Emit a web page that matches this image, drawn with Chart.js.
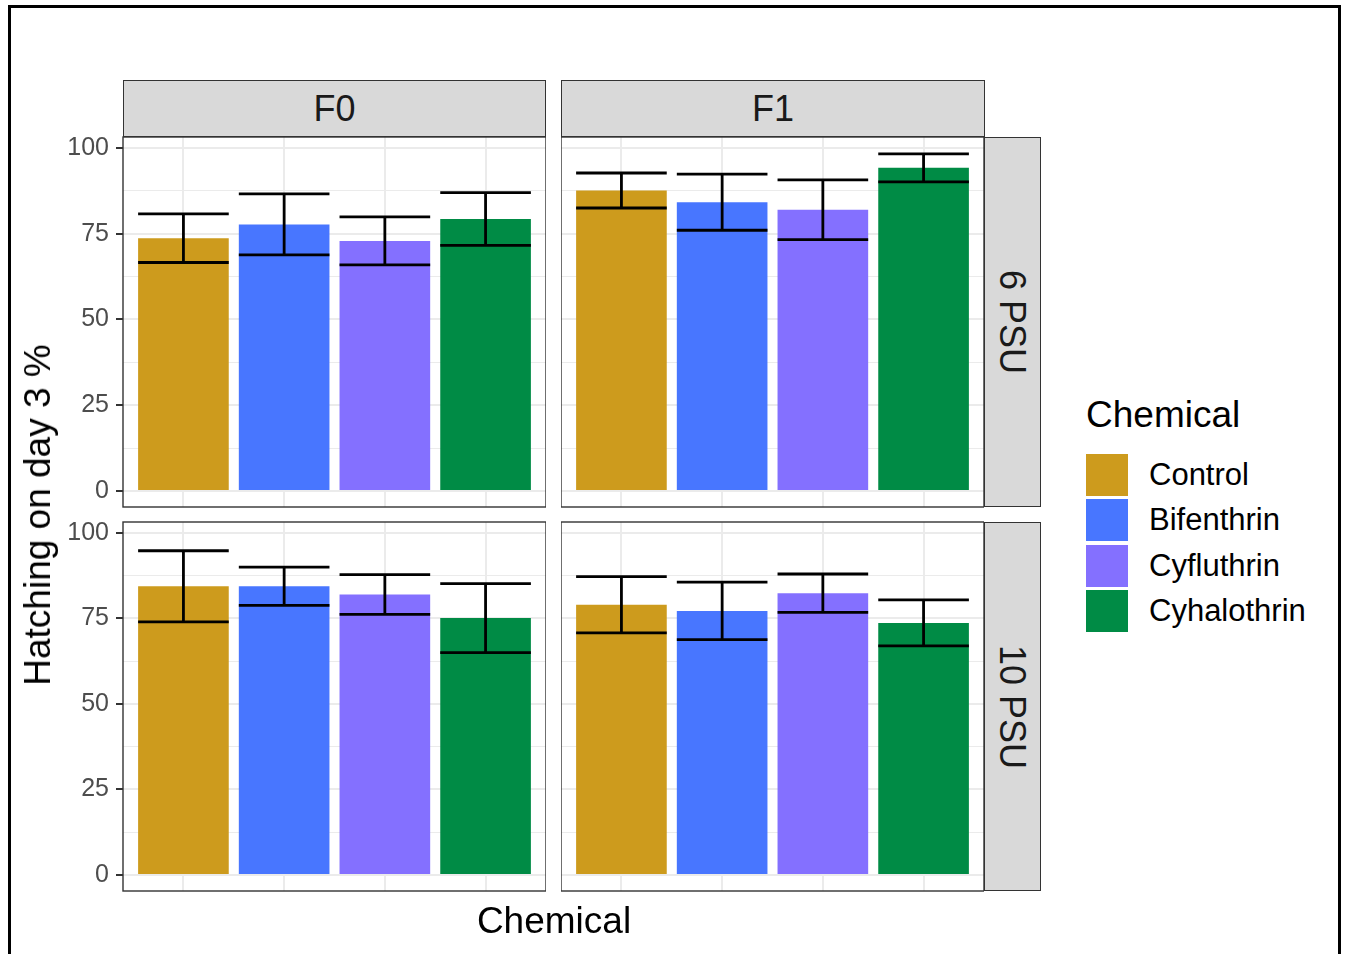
<!DOCTYPE html>
<html>
<head>
<meta charset="utf-8">
<script src="https://cdn.jsdelivr.net/npm/chart.js@4.4.1/dist/chart.umd.min.js"></script>
<style>
  body { margin: 0; background: #fff; width: 1345px; height: 954px; overflow: hidden; position: relative;
         font-family: "Liberation Sans", Arial, sans-serif; }
  .frame { position: absolute; left: 8px; top: 5px; width: 1327px; height: 990px; border: 3px solid #000; }
  canvas { position: absolute; }
  .strip { position: absolute; background: #d9d9d9; border: 1.5px solid #333; box-sizing: border-box;
           color: #1a1a1a; font-size: 36px; display: flex; align-items: center; justify-content: center; }
  .vtext { transform: rotate(90deg); white-space: nowrap; }
  .title { position: absolute; color: #000; font-size: 37px; white-space: nowrap; transform: translate(-50%, -50%); }
  .legend { position: absolute; left: 1086px; top: 394px; }
  .legend .head { font-size: 37px; color: #000; margin-bottom: 16px; line-height: 42px; }
  .legend .row { display: flex; align-items: center; height: 45.5px; }
  .legend .key { width: 42px; height: 42px; margin-right: 21px; }
  .legend .lab { font-size: 31px; color: #000; }
</style>
</head>
<body>
<div class="frame"></div>

<canvas id="p00" width="496" height="450" style="left:50px; top:97px;"></canvas>
<canvas id="p01" width="423" height="450" style="left:561px; top:97px;"></canvas>
<canvas id="p10" width="496" height="449" style="left:50px; top:482px;"></canvas>
<canvas id="p11" width="423" height="449" style="left:561px; top:482px;"></canvas>

<div class="strip" style="left:123px; top:80px; width:423px; height:57px;">F0</div>
<div class="strip" style="left:561px; top:80px; width:424px; height:57px;">F1</div>
<div class="strip" style="left:984px; top:137px; width:57px; height:370px;"><span class="vtext">6 PSU</span></div>
<div class="strip" style="left:984px; top:522px; width:57px; height:369px;"><span class="vtext">10 PSU</span></div>

<div class="title" style="left:38px; top:515px; transform: translate(-50%, -50%) rotate(-90deg);">Hatching on day 3 %</div>
<div class="title" style="left:554px; top:921px;">Chemical</div>

<div class="legend" id="legend"><div class="head">Chemical</div></div>

<script>
const categories = ["Control", "Bifenthrin", "Cyfluthrin", "Cyhalothrin"];
const barColors = ["#CD9B1D", "#4876FF", "#8470FF", "#008B45"];
const yTicks = [0, 25, 50, 75, 100];
const yMinorTicks = [12.5, 37.5, 62.5, 87.5];

// mean hatching on day 3 (%) and error bar half-width, one pair per facet
const f0_6psu = [73.7, 77.7, 72.9, 79.3];
const f0_6psu_err = [7.1, 8.9, 7.0, 7.7];
const f1_6psu = [87.6, 84.2, 82.0, 94.2];
const f1_6psu_err = [5.1, 8.2, 8.7, 4.1];
const f0_10psu = [84.4, 84.4, 82.0, 75.1];
const f0_10psu_err = [10.4, 5.6, 5.8, 10.1];
const f1_10psu = [79.0, 77.2, 82.4, 73.7];
const f1_10psu_err = [8.2, 8.4, 5.6, 6.7];

Chart.defaults.font.family = '"Liberation Sans", Arial, sans-serif';

const errorBars = {
  id: "errorBars",
  afterDatasetsDraw(chart, args, opts) {
    const ctx = chart.ctx, xs = chart.scales.x, ys = chart.scales.y;
    ctx.save();
    ctx.strokeStyle = "#000";
    ctx.lineWidth = 2.8;
    chart.data.datasets[0].data.forEach((pt, i) => {
      const xc = xs.getPixelForValue(pt.x);
      const xl = xs.getPixelForValue(pt.x - 0.45);
      const xr = xs.getPixelForValue(pt.x + 0.45);
      const hi = ys.getPixelForValue(pt.y + opts.err[i]);
      const lo = ys.getPixelForValue(pt.y - opts.err[i]);
      ctx.beginPath();
      ctx.moveTo(xl, hi); ctx.lineTo(xr, hi);
      ctx.moveTo(xl, lo); ctx.lineTo(xr, lo);
      ctx.moveTo(xc, hi); ctx.lineTo(xc, lo);
      ctx.stroke();
    });
    ctx.restore();
  }
};

const panelBorder = {
  id: "panelBorder",
  afterDraw(chart) {
    const a = chart.chartArea, ctx = chart.ctx;
    ctx.save();
    ctx.strokeStyle = "#333333";
    ctx.lineWidth = 1.4;
    ctx.strokeRect(a.left, a.top, a.right - a.left, a.bottom - a.top);
    ctx.restore();
  }
};

function makePanel(id, values, errs, showY) {
  const isMajor = (v) => yTicks.includes(v);
  new Chart(document.getElementById(id), {
    type: "bar",
    data: {
      datasets: [{
        data: values.map((v, i) => ({ x: i + 1, y: v })),
        backgroundColor: barColors,
        borderWidth: 0,
        categoryPercentage: 1,
        barPercentage: 0.9
      }]
    },
    options: {
      responsive: false,
      animation: false,
      layout: { padding: { top: 40, bottom: 40, left: 0, right: 0 } },
      plugins: { legend: { display: false }, tooltip: { enabled: false }, errorBars: { err: errs } },
      scales: {
        x: {
          type: "linear", min: 0.4, max: 4.6, offset: false,
          afterBuildTicks: (s) => { s.ticks = categories.map((c, i) => ({ value: i + 1 })); },
          afterFit: (s) => { s.height = 0; },
          ticks: { display: false },
          border: { display: false },
          grid: { color: "#ebebeb", lineWidth: 2, drawTicks: false, offset: false }
        },
        y: {
          min: -4.7, max: 103.2,
          afterBuildTicks: (s) => {
            s.ticks = yTicks.concat(yMinorTicks).sort((a, b) => a - b).map((v) => ({ value: v }));
          },
          afterFit: (s) => { s.width = showY ? 73 : 0; },
          border: { display: false },
          ticks: {
            display: showY, autoSkip: false, padding: 7, color: "#4d4d4d",
            font: { size: 25 },
            callback: (v) => (isMajor(v) ? String(v) : "")
          },
          grid: {
            color: "#ebebeb",
            lineWidth: (c) => (isMajor(c.tick.value) ? 2 : 1),
            drawTicks: showY, tickLength: 7, tickWidth: 2,
            tickColor: (c) => (isMajor(c.tick.value) ? "#333333" : "rgba(0,0,0,0)")
          }
        }
      }
    },
    plugins: [errorBars, panelBorder]
  });
}

makePanel("p00", f0_6psu, f0_6psu_err, true);
makePanel("p01", f1_6psu, f1_6psu_err, false);
makePanel("p10", f0_10psu, f0_10psu_err, true);
makePanel("p11", f1_10psu, f1_10psu_err, false);

const legend = document.getElementById("legend");
categories.forEach((c, i) => {
  const row = document.createElement("div");
  row.className = "row";
  row.innerHTML = '<div class="key" style="background:' + barColors[i] + '"></div><div class="lab">' + c + "</div>";
  legend.appendChild(row);
});
</script>
</body>
</html>
